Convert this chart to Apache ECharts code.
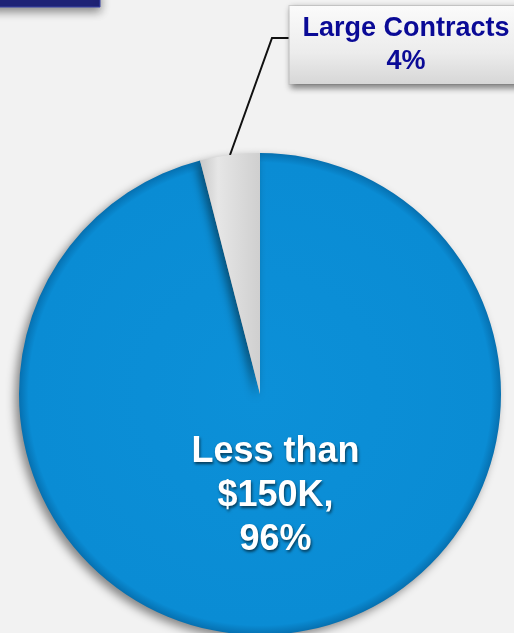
<!DOCTYPE html>
<html>
<head>
<meta charset="utf-8">
<script src="https://cdn.jsdelivr.net/npm/echarts@6/dist/echarts.min.js"></script>
<style>
  html, body { margin: 0; padding: 0; background: #f2f2f2; }
  #main { width: 514px; height: 633px; }
</style>
</head>
<body>
<div id="main"></div>
<script>
const categories = ['Less than\n$150K,', 'Large Contracts'];
const shares = [96, 4];
const pctLabels = ['96%', '4%'];

const chart = echarts.init(document.getElementById('main'));

const sliceColors = [
  new echarts.graphic.RadialGradient(0.5, 0.5, 0.5, [
    { offset: 0, color: '#0c90d8' },
    { offset: 0.96, color: '#0a8cd4' },
    { offset: 1, color: '#0670b0' }
  ]),
  new echarts.graphic.LinearGradient(0, 0, 1, 0, [
    { offset: 0, color: '#c8c8c8' },
    { offset: 0.3, color: '#e6e6e6' },
    { offset: 1, color: '#cfcfcf' }
  ])
];

const option = {
  backgroundColor: '#f2f2f2',
  animation: false,
  graphic: [{
    type: 'rect',
    shape: { x: -10, y: -10, width: 110, height: 17 },
    style: {
      fill: '#1f2378', stroke: '#3a45a8', lineWidth: 1,
      shadowBlur: 10, shadowColor: 'rgba(0,0,0,0.45)', shadowOffsetY: 4
    }
  }],
  series: [{
    type: 'pie',
    center: [260, 394],
    radius: 241,
    startAngle: 90,
    clockwise: true,
    itemStyle: {
      shadowBlur: 10,
      shadowColor: 'rgba(0,0,0,0.45)',
      shadowOffsetX: -4,
      shadowOffsetY: 4
    },
    data: categories.map((name, i) => ({
      name: name,
      value: shares[i],
      itemStyle: { color: sliceColors[i] },
      label: i === 0 ? {
        show: true,
        position: 'inside',
        overflow: 'none',
        formatter: name + '\n' + pctLabels[i],
        color: '#ffffff',
        fontFamily: 'Liberation Sans, Arial, sans-serif',
        fontWeight: 'bold',
        fontSize: 36,
        lineHeight: 44,
        textShadowColor: 'rgba(0,0,0,0.6)',
        textShadowBlur: 3,
        textShadowOffsetX: 1,
        textShadowOffsetY: 2
      } : {
        show: true,
        position: 'outside',
        overflow: 'none',
        width: 215,
        formatter: name + '\n' + pctLabels[i],
        color: '#0a0a96',
        fontFamily: 'Liberation Sans, Arial, sans-serif',
        fontWeight: 'bold',
        fontSize: 27,
        lineHeight: 33,
        padding: [6, 9, 6, 9],
        backgroundColor: new echarts.graphic.LinearGradient(0, 0, 0, 1, [
          { offset: 0, color: '#fbfbfb' },
          { offset: 0.6, color: '#ececec' },
          { offset: 1, color: '#d6d6d6' }
        ]),
        borderColor: '#cfcfcf',
        borderWidth: 1,
        shadowBlur: 6,
        shadowColor: 'rgba(0,0,0,0.45)',
        shadowOffsetX: 2,
        shadowOffsetY: 3
      },
      labelLine: i === 0 ? { show: false } : {
        show: true,
        lineStyle: { color: '#111111', width: 2 }
      }
    }))
  }]
};

chart.setOption(option);

// place the labels like the slide: inner label a bit higher, callout box at top right
chart.setOption({
  series: [{
    labelLayout: function (params) {
      if (params.dataIndex === 0) {
        return { dy: -20 };
      }
      return {
        x: 406,
        y: 45,
        align: 'center',
        verticalAlign: 'middle',
        labelLinePoints: [[230, 155], [272, 38], [290, 38]]
      };
    }
  }]
});
</script>
</body>
</html>
